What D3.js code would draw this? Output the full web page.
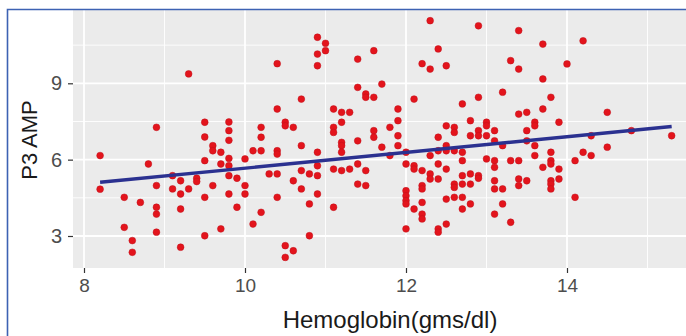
<!DOCTYPE html>
<html>
<head>
<meta charset="utf-8">
<script src="https://cdn.jsdelivr.net/npm/d3@7/dist/d3.min.js"></script>
<style>
html,body{margin:0;padding:0;background:#fff;}
svg{display:block;}
</style>
</head>
<body>
<svg id="chart" width="686" height="336"></svg>
<script>
// ---- data ----
const hemoglobin = [
9.3,8.9,9.5,9.8,9.8,9.5,9.8,9.6,9.6,9.7,8.2,8.8,9.5,9.8,9.7,9.8,
9.8,9.9,8.2,8.9,9.1,9.2,9.2,9.3,9.4,9.4,9.6,9.1,8.5,8.7,8.9,8.9,9.2,9.5,9.8,9.9,8.5,8.9,9.5,9.7,8.6,8.6,9.2,
10.4,10.9,11.0,11.0,10.9,10.9,11.4,11.6,12.3,12.4,12.2,12.3,12.5,10.7,11.4,11.7,11.5,11.5,11.6,12.1,12.7,
10.4,11.1,11.2,11.3,11.9,11.9,11.2,10.2,10.5,10.5,10.6,11.1,11.1,11.8,11.6,11.6,11.9,12.5,12.6,12.6,12.4,
10.2,11.2,11.2,11.2,11.4,10.7,11.7,11.9,12.5,12.4,12.5,12.6,10.1,10.2,10.4,10.4,10.9,10.0,11.8,12.3,12.0,
10.9,11.4,12.0,12.1,12.4,
11.1,11.2,11.3,11.5,10.3,10.4,10.7,10.8,10.9,10.6,10.0,10.0,11.4,11.5,10.7,10.4,10.9,10.8,11.1,10.2,10.1,
10.8,10.5,10.6,10.5,12.1,12.2,12.3,12.3,12.4,12.5,12.6,12.6,12.7,12.2,12.2,12.0,12.0,12.0,12.0,12.2,12.1,
12.2,12.2,12.5,12.6,12.7,12.5,12.4,12.4,12.0,
12.9,13.4,13.7,14.2,13.3,13.4,14.0,13.7,13.2,12.9,13.8,13.7,13.4,13.5,14.5,12.8,13.0,13.0,13.6,13.6,13.9,
12.9,13.1,13.5,12.8,12.9,13.0,13.1,13.5,13.2,13.6,14.3,14.8,15.3,14.5,12.7,13.6,13.8,14.2,14.3,12.7,13.0,
13.1,13.3,13.4,13.8,13.8,14.1,13.1,13.7,13.9,
12.8,12.9,12.9,12.7,12.8,13.1,13.1,13.2,13.4,13.4,13.5,13.8,13.8,13.8,13.9,12.7,12.8,13.2,13.1,13.3,14.1
];
const p3amp = [
9.37,7.27,7.47,7.48,7.14,6.89,6.76,6.55,6.35,6.29,6.16,5.83,5.96,6.05,5.83,5.76,
5.37,5.27,4.84,4.98,4.85,5.17,4.65,4.85,5.27,5.14,4.98,5.37,4.52,4.32,4.13,3.86,4.06,4.52,4.65,4.13,3.34,3.15,3.01,3.28,2.82,2.36,2.56,
9.77,10.81,10.57,10.28,10.15,9.69,9.95,10.28,11.46,10.35,9.77,9.56,9.69,8.38,8.84,8.97,8.58,8.45,8.45,8.38,8.19,
7.99,7.99,7.86,7.86,7.99,7.53,7.47,7.27,7.47,7.33,7.27,7.27,7.07,7.27,7.14,6.88,6.94,7.33,7.27,7.07,6.88,
6.88,6.68,6.55,6.29,6.74,6.55,6.49,6.55,6.55,6.35,6.35,6.35,6.35,6.35,6.35,6.22,6.29,6.03,6.16,6.16,6.29,
5.76,5.83,5.83,5.76,5.83,
5.63,5.57,5.63,5.57,5.44,5.44,5.57,5.44,5.37,5.17,4.98,4.65,5.04,4.98,4.85,4.52,4.65,4.26,4.13,3.93,3.47,
3.01,2.62,2.42,2.16,5.63,5.57,5.44,5.24,5.24,5.63,5.04,4.91,5.37,4.98,4.85,4.78,4.58,4.39,4.26,4.32,4.06,
3.86,3.67,4.45,4.52,4.06,3.47,3.28,3.15,3.28,
11.26,11.07,10.54,10.67,9.89,9.56,9.76,9.17,8.65,8.45,8.45,7.99,7.79,7.86,7.86,7.53,7.47,7.33,7.47,7.33,7.47,
7.14,7.14,7.14,6.94,6.94,6.94,6.74,6.74,6.55,6.55,6.94,7.14,6.94,6.49,6.29,6.16,6.29,6.29,6.16,5.96,6.03,
5.96,5.96,5.96,5.96,5.83,5.96,5.70,5.70,5.63,
5.44,5.37,5.27,5.04,5.04,5.17,4.85,4.85,5.24,4.98,5.17,5.17,5.04,4.85,5.24,4.52,4.26,4.26,3.86,3.54,4.52
];
const fitX = [8.2, 15.3];
const fitY = [5.11, 7.30];
const xTicks = [8, 10, 12, 14];
const yTicks = [3, 6, 9];
const xMinor = [9, 11, 13, 15];
const yMinor = [4.5, 7.5, 10.5];
const xTitle = "Hemoglobin(gms/dl)";
const yTitle = "P3 AMP";

// ---- layout ----
const svg = d3.select("#chart");
const panel = {left: 73, top: 10, right: 700, bottom: 268};
const x = d3.scaleLinear().domain([8, 15]).range([84, 84 + 7 * 80.5]);
const y = d3.scaleLinear().domain([3, 9]).range([236, 236 - 6 * 25.45]);

svg.append("rect").attr("width", 686).attr("height", 336).attr("fill", "#fff");

svg.append("rect")
  .attr("x", panel.left).attr("y", panel.top)
  .attr("width", panel.right - panel.left).attr("height", panel.bottom - panel.top)
  .attr("fill", "#ebebeb");

const grid = svg.append("g");
grid.selectAll(".xmin").data(xMinor).enter().append("line")
  .attr("x1", d => x(d)).attr("x2", d => x(d))
  .attr("y1", panel.top).attr("y2", panel.bottom)
  .attr("stroke", "#fff").attr("stroke-width", 0.9);
grid.selectAll(".ymin").data(yMinor).enter().append("line")
  .attr("y1", d => y(d)).attr("y2", d => y(d))
  .attr("x1", panel.left).attr("x2", panel.right)
  .attr("stroke", "#fff").attr("stroke-width", 0.9);
grid.selectAll(".xmaj").data(xTicks).enter().append("line")
  .attr("x1", d => x(d)).attr("x2", d => x(d))
  .attr("y1", panel.top).attr("y2", panel.bottom)
  .attr("stroke", "#fff").attr("stroke-width", 1.8);
grid.selectAll(".ymaj").data(yTicks).enter().append("line")
  .attr("y1", d => y(d)).attr("y2", d => y(d))
  .attr("x1", panel.left).attr("x2", panel.right)
  .attr("stroke", "#fff").attr("stroke-width", 1.8);

// points
svg.append("g").selectAll("circle").data(hemoglobin.map((h, i) => [h, p3amp[i]]))
  .enter().append("circle")
  .attr("cx", d => x(d[0])).attr("cy", d => y(d[1]))
  .attr("r", 3.4)
  .attr("fill", "#e3141c").attr("stroke", "#c0101a").attr("stroke-width", 0.5);

// regression line
svg.append("path")
  .datum(fitX.map((v, i) => [v, fitY[i]]))
  .attr("d", d3.line().x(d => x(d[0])).y(d => y(d[1])))
  .attr("fill", "none").attr("stroke", "#2b3190").attr("stroke-width", 3.4)
  .attr("stroke-linecap", "butt");

// axes
const xAxis = d3.axisBottom(x).tickValues(xTicks).tickSize(5).tickPadding(6).tickFormat(d3.format("d"));
const gx = svg.append("g").attr("transform", `translate(0,${panel.bottom})`).call(xAxis);
gx.select(".domain").remove();
gx.selectAll(".tick line").attr("stroke", "#333").attr("stroke-width", 1.2);
gx.selectAll(".tick text").attr("fill", "#4d4d4d").attr("font-size", 19)
  .attr("font-family", "Liberation Sans, Arial, sans-serif");

const yAxis = d3.axisLeft(y).tickValues(yTicks).tickSize(5).tickPadding(6).tickFormat(d3.format("d"));
const gy = svg.append("g").attr("transform", `translate(${panel.left},0)`).call(yAxis);
gy.select(".domain").remove();
gy.selectAll(".tick line").attr("stroke", "#333").attr("stroke-width", 1.2);
gy.selectAll(".tick text").attr("fill", "#4d4d4d").attr("font-size", 20)
  .attr("font-family", "Liberation Sans, Arial, sans-serif");

// titles
svg.append("text").attr("x", 390).attr("y", 328)
  .attr("text-anchor", "middle").attr("font-size", 24)
  .attr("font-family", "Liberation Sans, Arial, sans-serif").attr("fill", "#1a1a1a")
  .text(xTitle);
svg.append("text").attr("transform", "translate(37,140) rotate(-90)")
  .attr("text-anchor", "middle").attr("font-size", 22)
  .attr("font-family", "Liberation Sans, Arial, sans-serif").attr("fill", "#1a1a1a")
  .text(yTitle);

// frame border (blue)
svg.append("path").attr("d", "M7.5,340 L7.5,9.5 L690,9.5")
  .attr("fill", "none").attr("stroke", "#3d62b3").attr("stroke-width", 1.6);
</script>
</body>
</html>
